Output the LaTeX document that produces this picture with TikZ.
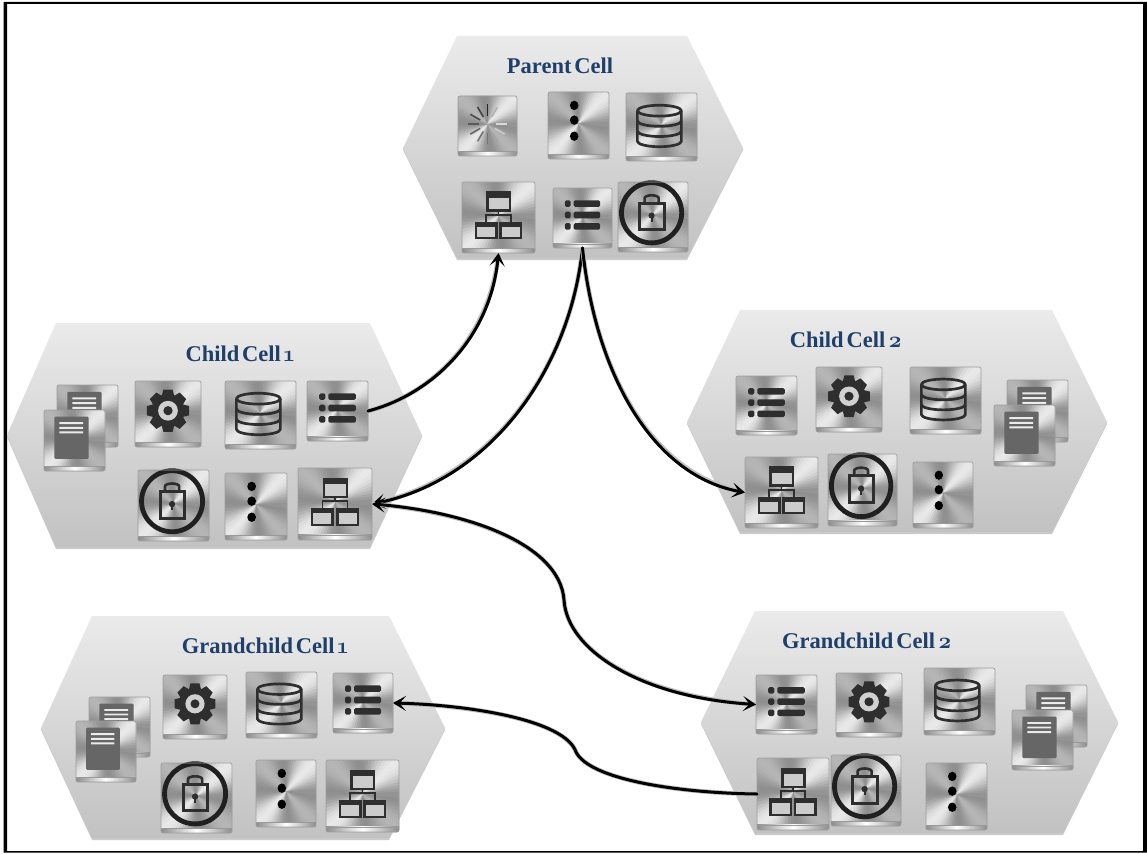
\documentclass[tikz,border=0pt]{standalone}
\usepackage{fontspec}
\setmainfont{Liberation Serif}[WordSpace=0.5]
\newfontfamily\oldfig{Latin Modern Roman}[Numbers=OldStyle]
\usetikzlibrary{arrows.meta}
\definecolor{titleblue}{HTML}{1F3F6B}
\definecolor{icondark}{HTML}{2E2E2E}
\definecolor{pagegray}{HTML}{666666}
\newcommand\cellnum[1]{{\oldfig\bfseries #1}}
\tikzset{
  keybox/.style={draw=black!38,line width=.7pt,rounded corners=2pt,inner sep=0pt,outer sep=0pt},
  celltitle/.style={text=titleblue,font=\bfseries\fontsize{22.5}{24}\selectfont,inner sep=0pt},
  conn/.style={draw=black,line width=3pt,line cap=round,
    preaction={draw=black!25,line width=4.6pt,arrows=-}},
  tipend/.style={-{Stealth[length=13pt,width=15pt,inset=6.5pt]}},
  tipboth/.style={{Stealth[length=13pt,width=15pt,inset=6.5pt]}-{Stealth[length=13pt,width=15pt,inset=6.5pt]}},
  iconline/.style={draw=icondark,line width=2.7pt,line join=round},
}
% hexagonal cell: left x, top-left x, top-right x, right x, top y, middle y, bottom y
\newcommand\hexcell[7]{%
  \fill[black!45,opacity=.45] (#1,#6+2) -- (#2,#5+2) -- (#3,#5+2) -- (#4,#6+2) -- (#3,#7+2) -- (#2,#7+2) -- cycle;
  \shade[top color=black!8,bottom color=black!24] (#1,#6) -- (#2,#5) -- (#3,#5) -- (#4,#6) -- (#3,#7) -- (#2,#7) -- cycle;
}
\newcommand\icdots{%
  \fill[black] (-7,-30) circle [radius=7] (-7,-8) circle [radius=7] (-7,16) circle [radius=7];
}
\newcommand\iclist{%
  \foreach \yy in {-24,-5,14} {
    \fill[icondark,rounded corners=1.5pt] (-30,\yy-5.5) rectangle (-20,\yy+5.5);
    \fill[icondark,rounded corners=1.5pt] (-15,\yy-5.5) rectangle (30,\yy+5.5);
  }
}
\newcommand\icdb{%
  \begin{scope}[iconline]
    \draw (-3,-24) ellipse [x radius=31,y radius=8];
    \draw (-34,-24) -- (-34,21) arc [start angle=180,end angle=0,x radius=31,y radius=8] -- (28,-24);
    \draw (-34,-9) arc [start angle=180,end angle=0,x radius=31,y radius=8];
    \draw (-34,6) arc [start angle=180,end angle=0,x radius=31,y radius=8];
  \end{scope}
}
\newcommand\iclock{%
  \draw[icondark!70!black,line width=4.8pt] (-2,-6) circle [radius=43];
  \draw[icondark,line width=3pt] (-19,-20) rectangle (16,18);
  \draw[icondark,line width=2.6pt] (-12,-20) -- (-12,-27) arc [start angle=180,end angle=360,x radius=10,y radius=4] -- (8,-20);
  \fill[icondark] (-2,-2) circle [radius=4.5];
  \fill[icondark] (-3.5,-1) rectangle (-0.5,7);
}
\newcommand\icnet{%
  \begin{scope}[draw=icondark,line width=2.6pt]
    \draw[fill=black!20] (-15,-35) rectangle (16,-10);
    \fill[icondark] (-15,-35) rectangle (16,-28);
    \draw[line width=1.8pt] (0,-10) -- (0,-4) (-17,8) -- (-17,-4) -- (17,-4) -- (17,8);
    \draw[fill=black!20] (-31,8) rectangle (-3,29);
    \fill[icondark] (-31,8) rectangle (-3,13);
    \draw[fill=black!20] (3,8) rectangle (31,29);
    \fill[icondark] (3,8) rectangle (31,13);
  \end{scope}
}
\newcommand\icgear{%
  \begin{scope}[shift={(0,-5)}]
    \foreach \ang in {0,45,...,315} {
      \fill[icondark,rotate=\ang] (-7,-32) -- (7,-32) -- (10,-20) -- (-10,-20) -- cycle;
    }
    \fill[icondark] (0,0) circle [radius=25];
    \fill[black!18] (0,0) circle [radius=15];
    \fill[icondark] (0,0) circle [radius=7];
  \end{scope}
}
\newcommand\icdoc{%
  \fill[pagegray,rounded corners=1pt] (-33,-39) rectangle (23,30);
  \fill[white!92!black] (-25,-30) rectangle (14,-26.8) (-25,-22.4) rectangle (14,-19.2) (-25,-14.8) rectangle (14,-11.6);
}
\newcommand\icspin{%
  \begin{scope}[shift={(0,-3)}]
  \foreach \ang/\sh in {0/85,30/75,60/70,90/65,120/60,150/55,180/55,210/35,240/20,270/15,300/15,330/30} {
    \draw[black!\sh!white,line width=1.6pt,rotate=\ang] (0,-14) -- (0,-33);
  }
  \end{scope}
}
% metal key: name, x1, y1, x2, y2, icon
\newcommand\metalkey[6]{%
  \pgfmathsetmacro\kw{#4-#2}\pgfmathsetmacro\kh{#5-#3}%
  \pgfmathsetmacro\cx{(#2+#4)/2}\pgfmathsetmacro\cy{(#3+#5)/2}%
  \pgfmathsetmacro\ux{\kw/100}\pgfmathsetmacro\uy{\kh/100}%
  \begin{scope}[shift={(\cx,\cy)},x=\ux pt,y=-\uy pt]
    \begin{scope}
      \clip[rounded corners=2pt] (-50,-50) rectangle (50,50);
      \fill[black!25] (-50,-50) rectangle (50,50);
      \foreach \a in {0,5,...,355} {
        \pgfmathsetmacro\g{69+12*cos(4*(\a+2.5+45))+10*cos(2*(\a+2.5+45))}
        \fill[white!\g!black] (0,-3) -- (\a:120) -- (\a+10:120) -- cycle;
      }
      \shade[left color=black!45,right color=black!45,middle color=white] (-50,43) rectangle (50,50);
      \fill[black!40] (-50,42.5) rectangle (50,43.5);
    \end{scope}
    #6
  \end{scope}
  \node[keybox,minimum width=\kw pt,minimum height=\kh pt] (#1) at (\cx,\cy) {};
}
\begin{document}
\begin{tikzpicture}[x=1pt,y=-1pt]
\useasboundingbox (0,0) rectangle (1147,853);
\fill[white] (0,0) rectangle (1147,853);
\fill[black,even odd rule] (3.5,2) rectangle (1147,852.5) (7,4) rectangle (1143,851);

\hexcell{403}{457}{687}{743}{36}{148}{258}
\hexcell{7}{56}{370}{422}{323}{435}{547}
\hexcell{687}{740}{1052}{1107}{310}{422}{532}
\hexcell{41}{92}{389}{445}{616}{728}{838}
\hexcell{701}{755}{1063}{1118}{611}{722}{833}

\node[celltitle] (tp) at (560,66) {Parent Cell};
\node[celltitle] (tc1) at (240,354) {Child Cell \cellnum{1}};
\node[celltitle] (tc2) at (846,340) {Child Cell \cellnum{2}};
\node[celltitle] (tg1) at (265,646) {Grandchild Cell \cellnum{1}};
\node[celltitle] (tg2) at (867,641) {Grandchild Cell \cellnum{2}};

% Parent
\metalkey{pspin}{458}{96}{517}{156}{\icspin}
\metalkey{pdots}{548}{92}{609}{159}{\icdots}
\metalkey{pdb}{626}{93}{697}{161}{\icdb}
\metalkey{pnet}{462}{182}{535}{253}{\icnet}
\metalkey{plist}{553}{188}{612}{248}{\iclist}
\metalkey{plock}{618}{182}{688}{252}{\iclock}
% Child 1
\metalkey{caback}{57}{385}{118}{447}{\icdoc}
\metalkey{cafront}{44}{410}{105}{471}{\icdoc}
\metalkey{cagear}{135}{381}{201}{447}{\icgear}
\metalkey{cadb}{225}{381}{296}{449}{\icdb}
\metalkey{calist}{307}{381}{368}{441}{\iclist}
\metalkey{calock}{138}{470}{209}{541}{\iclock}
\metalkey{cadots}{225}{473}{287}{540}{\icdots}
\metalkey{canet}{298}{468}{372}{540}{\icnet}
% Child 2
\metalkey{cblist}{736}{376}{797}{435}{\iclist}
\metalkey{cbgear}{816}{367}{882}{432}{\icgear}
\metalkey{cbdb}{910}{367}{981}{434}{\icdb}
\metalkey{cbback}{1007}{380}{1068}{442}{\icdoc}
\metalkey{cbfront}{994}{405}{1055}{466}{\icdoc}
\metalkey{cbnet}{745}{457}{818}{528}{\icnet}
\metalkey{cblock}{828}{454}{897}{526}{\iclock}
\metalkey{cbdots}{913}{462}{973}{528}{\icdots}
% Grandchild 1
\metalkey{gaback}{89}{697}{150}{757}{\icdoc}
\metalkey{gafront}{76}{721}{136}{782}{\icdoc}
\metalkey{gagear}{163}{675}{227}{739}{\icgear}
\metalkey{gadb}{246}{672}{317}{738}{\icdb}
\metalkey{galist}{333}{673}{393}{733}{\iclist}
\metalkey{galock}{161}{763}{232}{833}{\iclock}
\metalkey{gadots}{256}{760}{316}{827}{\icdots}
\metalkey{ganet}{326}{760}{399}{832}{\icnet}
% Grandchild 2
\metalkey{gblist}{756}{675}{817}{734}{\iclist}
\metalkey{gbgear}{836}{673}{902}{737}{\icgear}
\metalkey{gbdb}{924}{668}{995}{735}{\icdb}
\metalkey{gbback}{1026}{685}{1087}{747}{\icdoc}
\metalkey{gbfront}{1012}{710}{1073}{770}{\icdoc}
\metalkey{gbnet}{757}{758}{829}{830}{\icnet}
\metalkey{gblock}{831}{755}{901}{826}{\iclock}
\metalkey{gbdots}{926}{763}{987}{830}{\icdots}

% Connectors
\draw[conn,tipend] (calist.east) .. controls (430,395) and (490,340) .. (pnet.south);
\draw[conn,tipend] (plist.south) .. controls (570,370) and (490,480) .. (canet.east);
\draw[conn,tipend] (plist.south) .. controls (595,370) and (650,475) .. (cbnet.west);
\draw[conn,tipboth] (canet.east) .. controls (470,512) and (560,545) .. (564,600) .. controls (567,650) and (640,697) .. (gblist.west);
\draw[conn,tipend] (gbnet.west) .. controls (680,793) and (590,780) .. (576,752) .. controls (565,720) and (470,705) .. (galist.east);
\end{tikzpicture}
\end{document}
